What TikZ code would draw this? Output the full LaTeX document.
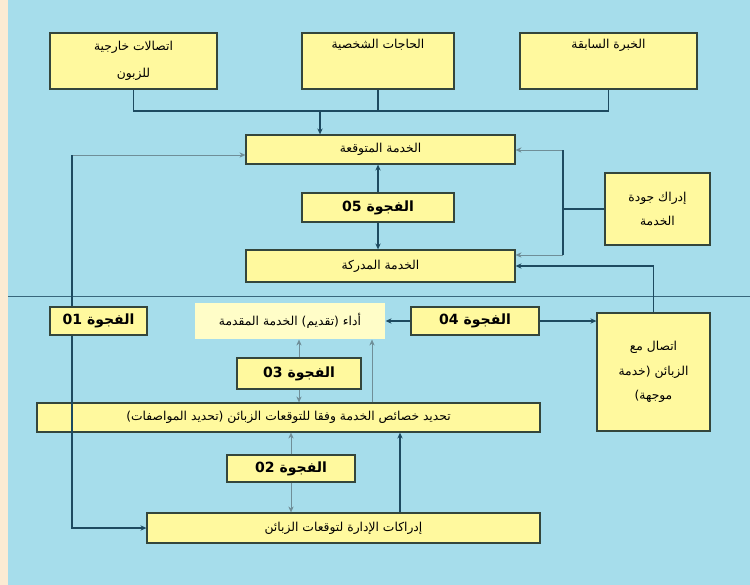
\documentclass[tikz,border=0pt]{standalone}
\usepackage{fontspec}
\newfontfamily\arabicfont[Script=Arabic]{DejaVu Sans}
\TeXXeTstate=1
\usepackage{xcolor}
\usetikzlibrary{arrows.meta, positioning}

\definecolor{skyback}{HTML}{A6DDEB}
\definecolor{sidestrip}{HTML}{FBEBD3}
\definecolor{boxfill}{HTML}{FFF99E}
\definecolor{palefill}{HTML}{FFFDC8}
\definecolor{boxline}{HTML}{34463C}
\definecolor{linkblue}{HTML}{1D4A60}
\definecolor{linkgray}{HTML}{6F8E98}

\newcommand{\ar}[1]{\beginR #1\endR}
\newcommand{\gapno}[1]{\beginR الفجوة \beginL #1\endL\endR}

\begin{document}
\begin{tikzpicture}[
    x=0.03cm, y=-0.03cm,
    >={Stealth[length=5pt, width=4.5pt]},
    link/.style={draw=linkblue, line width=0.9pt},
    soft_link/.style={draw=linkgray, line width=0.5pt},
    split_line/.style={draw=linkblue!80!skyback, line width=0.8pt},
    % Boxes
    top_node/.style={rectangle, draw=boxline, fill=boxfill, line width=1.1pt, inner sep=0pt, minimum height=1.68cm, align=center, font=\arabicfont\fontsize{10.5}{23}\selectfont},
    main_node/.style={rectangle, draw=boxline, fill=boxfill, line width=1.1pt, inner sep=0pt, minimum height=0.87cm, align=center, font=\arabicfont\fontsize{10.5}{13}\selectfont},
    gap_node/.style={rectangle, draw=boxline, fill=boxfill, line width=1.1pt, inner sep=0pt, minimum height=0.84cm, align=center, font=\arabicfont\fontsize{12}{14}\selectfont\bfseries},
    side_node/.style={rectangle, draw=boxline, fill=boxfill, line width=1.1pt, inner sep=0pt, align=center, font=\arabicfont\fontsize{10.5}{21}\selectfont}
]
    \useasboundingbox (0,0) rectangle (750,585);
    \fill[sidestrip] (0,0) rectangle (8,585);
    \fill[skyback] (8,0) rectangle (750,585);

    % =========================================================================
    % UPPER PART: EXPECTED / PERCEIVED SERVICE
    % =========================================================================
    \node [top_node, minimum width=5.01cm] (ext) at (133.5, 61) {\ar{اتصالات خارجية}\\\ar{للزبون}};
    \node [top_node, minimum width=4.56cm] (needs) at (378, 61) {\ar{الحاجات الشخصية}\\\strut};
    \node [top_node, minimum width=5.31cm] (exper) at (608.5, 61) {\ar{الخبرة السابقة}\\\strut};

    \node [main_node, minimum width=8.07cm] (expected) at (380.5, 149.5) {\ar{الخدمة المتوقعة}};
    \node [gap_node, minimum width=4.56cm, minimum height=0.87cm] (gap5) at (378, 207.5) {\gapno{05}};
    \node [main_node, minimum width=8.07cm, minimum height=0.96cm] (perceived) at (380.5, 266) {\ar{الخدمة المدركة}};
    \node [side_node, minimum width=3.15cm, minimum height=2.16cm] (quality) at (657.5, 209) {\ar{إدراك جودة}\\\ar{الخدمة}};

    \coordinate (bus) at (320, 111);
    \draw [link] (ext.south) |- (bus) -| (exper.south);
    \draw [link] (needs.south) -- (needs.south |- bus);
    \draw [link, ->] (bus) -- (bus |- expected.north);

    \draw [link, ->] (gap5.north) -- (gap5.north |- expected.south);
    \draw [link, ->] (gap5.south) -- (gap5.south |- perceived.north);

    \coordinate (qtop) at (563, 150);
    \coordinate (qbot) at (563, 255);
    \draw [soft_link, ->] (qtop) -- (qtop -| expected.east);
    \draw [soft_link, ->] (qbot) -- (qbot -| perceived.east);
    \draw [link] (qtop) -- (qbot);
    \draw [link] (quality.west) -- (quality.west -| qtop);

    \draw [split_line] (8, 296) -- (750, 296);

    % =========================================================================
    % LOWER PART: GAPS 01 - 04
    % =========================================================================
    \node [gap_node, minimum width=2.91cm] (gap1) at (98.5, 321) {\gapno{01}};
    \node [main_node, draw=none, fill=palefill, minimum width=5.7cm, minimum height=1.08cm] (perf) at (290, 321) {\ar{أداء (تقديم) الخدمة المقدمة}};
    \node [gap_node, minimum width=3.84cm] (gap4) at (475, 321) {\gapno{04}};
    \node [side_node, minimum width=3.39cm, minimum height=3.54cm] (comm) at (653.5, 372) {\ar{اتصال مع}\\\ar{الزبائن (خدمة}\\\ar{موجهة)}};
    \node [gap_node, minimum width=3.72cm, minimum height=0.93cm] (gap3) at (299, 373.5) {\gapno{03}};
    \node [main_node, minimum width=15.09cm] (spec) at (288.5, 417.5) {\ar{تحديد خصائص الخدمة وفقا للتوقعات الزبائن (تحديد المواصفات)}};
    \node [gap_node, minimum width=3.84cm, minimum height=0.81cm] (gap2) at (291, 468.5) {\gapno{02}};
    \node [main_node, minimum width=11.79cm, minimum height=0.9cm] (mgmt) at (343.5, 528) {\ar{إدراكات الإدارة لتوقعات الزبائن}};

    \coordinate (loop) at (72, 155);
    \draw [soft_link, ->] (loop) -- (loop -| expected.west);
    \draw [link] (gap1.north -| loop) -- (loop);
    \draw [link, ->] (gap1.south -| loop) |- (mgmt.west);

    \draw [link, ->] (comm.north) |- (perceived.east);
    \draw [link, ->] (gap4.west) -- (perf.east);
    \draw [link, ->] (gap4.east) -- (gap4.east -| comm.west);

    \draw [soft_link, ->] (gap3.north) -- (gap3.north |- perf.south);
    \draw [soft_link, ->] (gap3.south) -- (gap3.south |- spec.north);
    \coordinate (direct) at (372, 403);
    \draw [soft_link, ->] (spec.north -| direct) -- (perf.south -| direct);

    \draw [soft_link, ->] (gap2.north) -- (gap2.north |- spec.south);
    \draw [soft_link, ->] (gap2.south) -- (gap2.south |- mgmt.north);
    \coordinate (upline) at (400, 513);
    \draw [link, ->] (mgmt.north -| upline) -- (spec.south -| upline);
\end{tikzpicture}
\end{document}
